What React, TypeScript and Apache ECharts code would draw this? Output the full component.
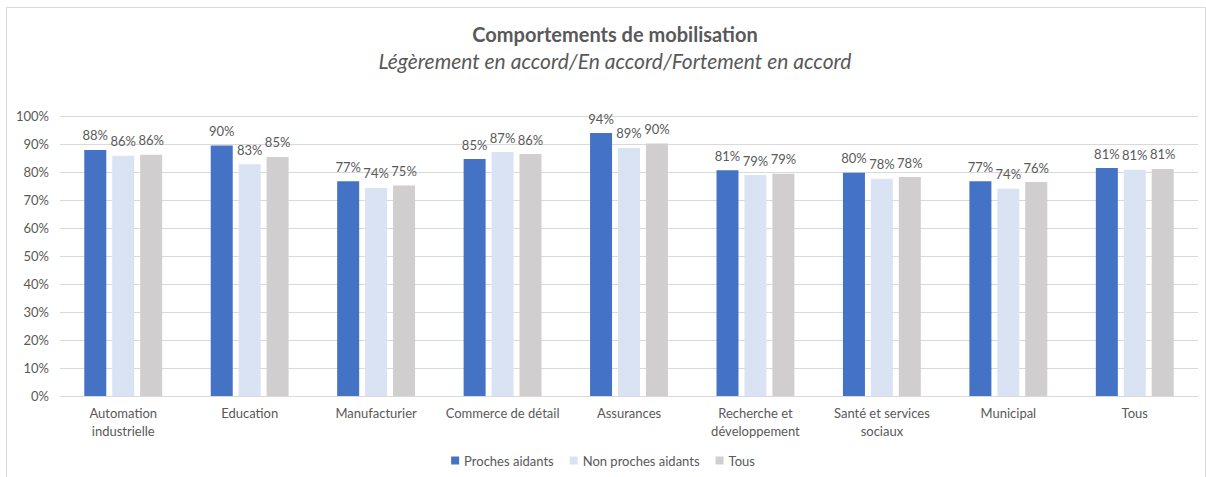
import React, { useEffect, useRef } from "react";
import * as echarts from "echarts";

const categories = [
  "Automation\nindustrielle",
  "Education",
  "Manufacturier",
  "Commerce de détail",
  "Assurances",
  "Recherche et\ndéveloppement",
  "Santé et services\nsociaux",
  "Municipal",
  "Tous",
];
const seriesNames = ["Proches aidants", "Non proches aidants", "Tous"];
const prochesAidants = [87.9, 89.5, 76.7, 84.6, 93.9, 80.6, 79.7, 76.7, 81.4];
const nonProchesAidants = [85.8, 82.8, 74.3, 87.1, 88.6, 78.9, 77.6, 74.0, 80.8];
const tous = [86.2, 85.4, 75.2, 86.4, 90.2, 79.4, 78.2, 76.4, 81.1];
const colors = ["#4472C4", "#DAE3F3", "#D0CECE"];

const FONT = "Lato, 'Open Sans', sans-serif";
const TEXT = "#595959";

export default function App() {
  const ref = useRef<HTMLDivElement>(null);
  useEffect(() => {
    if (!ref.current) return;
    const chart = echarts.init(ref.current, null, { renderer: "svg" });
    const data = [prochesAidants, nonProchesAidants, tous];
    chart.setOption({
      animation: false,
      textStyle: { fontFamily: FONT, color: TEXT },
      graphic: [
        {
          type: "rect",
          shape: { x: 6.5, y: 7.5, width: 1199, height: 490 },
          style: { fill: "none", stroke: "#D9D9D9", lineWidth: 1 },
          silent: true,
        },
      ],
      title: [
        {
          text: "Comportements de mobilisation",
          left: 610,
          top: 19,
          textAlign: "center",
          textStyle: { fontFamily: FONT, fontSize: 20, fontWeight: "bold", color: TEXT },
        },
        {
          text: "Légèrement en accord/En accord/Fortement en accord",
          left: 610,
          top: 45,
          textAlign: "center",
          textStyle: { fontFamily: FONT, fontSize: 21, fontStyle: "italic", fontWeight: "normal", color: TEXT },
        },
      ],
      legend: {
        data: seriesNames,
        bottom: 5,
        left: "center",
        itemWidth: 8,
        itemHeight: 8,
        itemGap: 16,
        icon: "rect",
        textStyle: { fontFamily: FONT, fontSize: 13, color: TEXT },
      },
      grid: { left: 60, right: 8, top: 116, bottom: 81 },
      xAxis: {
        type: "category",
        data: categories,
        axisLine: { lineStyle: { color: "#D9D9D9", width: 1 } },
        axisTick: { show: false },
        axisLabel: { fontFamily: FONT, fontSize: 13, color: TEXT, margin: 8, lineHeight: 18, interval: 0 },
      },
      yAxis: {
        type: "value",
        min: 0,
        max: 100,
        interval: 10,
        axisLabel: { formatter: "{value}%", fontFamily: FONT, fontSize: 13, color: TEXT, margin: 11 },
        splitLine: { lineStyle: { color: "#D9D9D9", width: 1 } },
        axisLine: { show: false },
        axisTick: { show: false },
      },
      series: seriesNames.map((name, i) => ({
        name,
        type: "bar",
        data: data[i],
        barWidth: 22,
        barGap: "27%",
        itemStyle: { color: colors[i] },
        label: {
          show: true,
          position: "top",
          distance: 8,
          fontFamily: FONT,
          fontSize: 13,
          color: TEXT,
          formatter: (p: any) => Math.round(p.value) + "%",
        },
      })),
    });
    return () => chart.dispose();
  }, []);
  return (
    <div
      ref={ref}
      style={{ position: "fixed", left: 0, top: 0, width: 1206, height: 477, background: "#fff" }}
    />
  );
}
